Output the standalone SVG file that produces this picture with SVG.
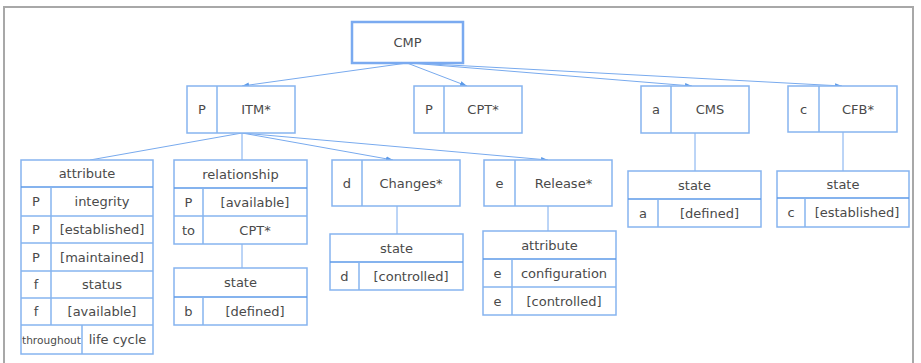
<svg xmlns="http://www.w3.org/2000/svg" width="921" height="363" viewBox="0 0 921 363">
<defs>
<style>
.b{fill:#fff;stroke:#86b4ef;stroke-width:1.5}
.d{stroke:#86b4ef;stroke-width:1.5;fill:none}
.h{stroke:#5c9ae8;stroke-width:1.5;fill:none}
.c{stroke:#78aaee;stroke-width:1;fill:none}
.ca{stroke:#78aaee;stroke-width:1;fill:none;marker-end:url(#ar)}
text{font-family:"DejaVu Sans","Liberation Sans",sans-serif;font-size:13px;fill:#4a4a4a;text-anchor:middle}
.s{font-size:10.8px}
</style>
<marker id="ar" markerUnits="userSpaceOnUse" markerWidth="8" markerHeight="6" refX="7" refY="3" orient="auto">
<path d="M0,0.5 L7,3 L0,5.5 Z" fill="#5c9ae8"/>
</marker>
</defs>
<rect x="0" y="0" width="921" height="363" fill="#fff"/>
<rect x="4" y="7" width="909" height="380" fill="none" stroke="#a8a8a8" stroke-width="2"/>

<g id="connectors">
<line class="ca" x1="407" y1="63" x2="242" y2="86"/>
<line class="ca" x1="407" y1="63" x2="467" y2="86"/>
<line class="ca" x1="410" y1="63" x2="692" y2="86"/>
<line class="ca" x1="412" y1="63" x2="842" y2="86"/>
<line class="c" x1="242" y1="133" x2="90" y2="160"/>
<line class="c" x1="242" y1="133" x2="242" y2="160"/>
<line class="ca" x1="242" y1="133" x2="393" y2="160"/>
<line class="ca" x1="242" y1="133" x2="548" y2="160"/>
<line class="c" x1="242" y1="244" x2="242" y2="268"/>
<line class="c" x1="397" y1="206" x2="397" y2="234"/>
<line class="c" x1="548" y1="206" x2="548" y2="231"/>
<line class="c" x1="695" y1="133" x2="695" y2="171"/>
<line class="c" x1="843" y1="132" x2="843" y2="171"/>
</g>

<g id="cmp">
<rect x="352" y="22" width="111" height="41" fill="#fff" stroke="#7aaaf0" stroke-width="2.5"/>
<text x="407.5" y="47">CMP</text>
</g>

<g id="itm">
<rect class="b" x="187" y="86" width="108" height="47"/>
<line class="d" x1="217" y1="86" x2="217" y2="133"/>
<text x="202" y="114">P</text>
<text x="256" y="114">ITM*</text>
</g>

<g id="cpt">
<rect class="b" x="414" y="86" width="108" height="47"/>
<line class="d" x1="444" y1="86" x2="444" y2="133"/>
<text x="429" y="114">P</text>
<text x="483" y="114">CPT*</text>
</g>

<g id="cms">
<rect class="b" x="641" y="86" width="108" height="47"/>
<line class="d" x1="671" y1="86" x2="671" y2="133"/>
<text x="656" y="114">a</text>
<text x="710" y="114">CMS</text>
</g>

<g id="cfb">
<rect class="b" x="788" y="86" width="109" height="46"/>
<line class="d" x1="819" y1="86" x2="819" y2="132"/>
<text x="803.5" y="114">c</text>
<text x="858" y="114">CFB*</text>
</g>

<g id="itm-attribute">
<rect class="b" x="21" y="160" width="132" height="194"/>
<line class="h" x1="21" y1="187" x2="153" y2="187"/>
<line class="d" x1="21" y1="216" x2="153" y2="216"/>
<line class="d" x1="21" y1="243" x2="153" y2="243"/>
<line class="d" x1="21" y1="271" x2="153" y2="271"/>
<line class="d" x1="21" y1="298" x2="153" y2="298"/>
<line class="d" x1="21" y1="325" x2="153" y2="325"/>
<line class="d" x1="51" y1="187" x2="51" y2="325"/>
<line class="d" x1="82" y1="325" x2="82" y2="354"/>
<text x="87" y="178">attribute</text>
<text x="36" y="206">P</text><text x="102" y="206">integrity</text>
<text x="36" y="234">P</text><text x="102" y="234">[established]</text>
<text x="36" y="261.5">P</text><text x="102" y="261.5">[maintained]</text>
<text x="36" y="289">f</text><text x="102" y="289">status</text>
<text x="36" y="316">f</text><text x="102" y="316">[available]</text>
<text class="s" x="51.5" y="343.5" textLength="59" lengthAdjust="spacingAndGlyphs">throughout</text><text x="117.5" y="344">life cycle</text>
</g>

<g id="itm-relationship">
<rect class="b" x="174" y="160" width="133" height="84"/>
<line class="h" x1="174" y1="188" x2="307" y2="188"/>
<line class="d" x1="174" y1="216" x2="307" y2="216"/>
<line class="d" x1="203" y1="188" x2="203" y2="244"/>
<text x="240.5" y="178.5">relationship</text>
<text x="188.5" y="206.5">P</text><text x="255" y="206.5">[available]</text>
<text x="188.5" y="234.5">to</text><text x="255" y="234.5">CPT*</text>
</g>

<g id="relationship-state">
<rect class="b" x="174" y="268" width="133" height="57"/>
<line class="h" x1="174" y1="297" x2="307" y2="297"/>
<line class="d" x1="203" y1="297" x2="203" y2="325"/>
<text x="240.5" y="287">state</text>
<text x="188.5" y="315.5">b</text><text x="255" y="315.5">[defined]</text>
</g>

<g id="changes">
<rect class="b" x="332" y="160" width="128" height="46"/>
<line class="d" x1="362" y1="160" x2="362" y2="206"/>
<text x="347" y="187.5">d</text>
<text x="411" y="187.5">Changes*</text>
</g>

<g id="changes-state">
<rect class="b" x="330" y="234" width="133" height="56"/>
<line class="h" x1="330" y1="262" x2="463" y2="262"/>
<line class="d" x1="359" y1="262" x2="359" y2="290"/>
<text x="396.5" y="252.5">state</text>
<text x="344.5" y="280.5">d</text><text x="411" y="280.5">[controlled]</text>
</g>

<g id="release">
<rect class="b" x="484" y="160" width="128" height="46"/>
<line class="d" x1="515" y1="160" x2="515" y2="206"/>
<text x="499.5" y="187.5">e</text>
<text x="563.5" y="187.5">Release*</text>
</g>

<g id="release-attribute">
<rect class="b" x="483" y="231" width="133" height="84"/>
<line class="h" x1="483" y1="259" x2="616" y2="259"/>
<line class="d" x1="483" y1="287" x2="616" y2="287"/>
<line class="d" x1="512" y1="259" x2="512" y2="315"/>
<text x="549.5" y="249.5">attribute</text>
<text x="497.5" y="277.5">e</text><text x="564" y="277.5">configuration</text>
<text x="497.5" y="305.5">e</text><text x="564" y="305.5">[controlled]</text>
</g>

<g id="cms-state">
<rect class="b" x="628" y="171" width="133" height="56"/>
<line class="h" x1="628" y1="199" x2="761" y2="199"/>
<line class="d" x1="658" y1="199" x2="658" y2="227"/>
<text x="694.5" y="189.5">state</text>
<text x="643" y="217.5">a</text><text x="709.5" y="217.5">[defined]</text>
</g>

<g id="cfb-state">
<rect class="b" x="777" y="171" width="132" height="56"/>
<line class="h" x1="777" y1="198" x2="909" y2="198"/>
<line class="d" x1="805" y1="198" x2="805" y2="227"/>
<text x="843" y="189">state</text>
<text x="791" y="217">c</text><text x="857" y="217">[established]</text>
</g>
</svg>
